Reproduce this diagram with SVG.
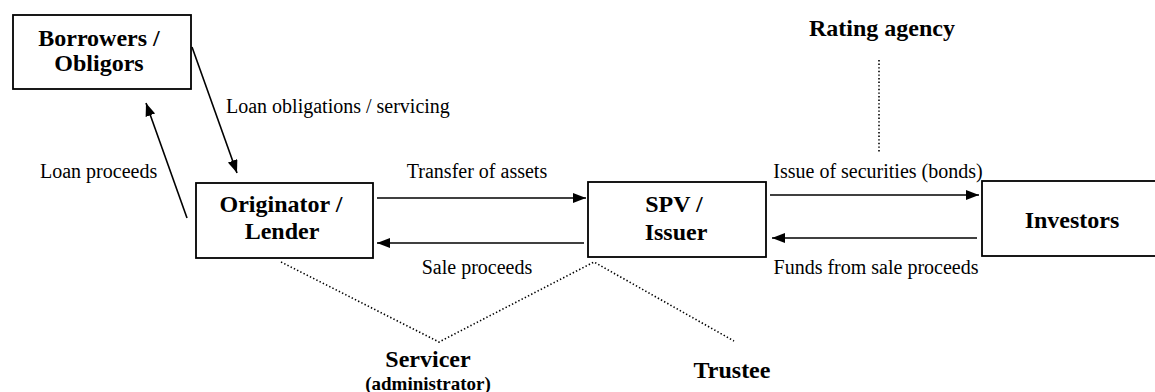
<svg xmlns="http://www.w3.org/2000/svg" width="1155" height="392" viewBox="0 0 1155 392">
  <style>
    .box { fill: #fff; stroke: #000; stroke-width: 1.8; }
    .node { font-family: "Liberation Serif", "Times New Roman", serif; font-weight: bold; font-size: 24px; fill: #000; text-anchor: middle; }
    .sub { font-size: 19px; }
    .label { font-family: "Liberation Serif", "Times New Roman", serif; font-size: 20px; fill: #000; }
    .flow { stroke: #000; stroke-width: 1.6; fill: none; marker-end: url(#arrow); }
    .dot { stroke: #000; stroke-width: 1.6; fill: none; stroke-dasharray: 1.4 2.2; }
  </style>
  <defs>
    <marker id="arrow" markerUnits="userSpaceOnUse" markerWidth="14" markerHeight="12" refX="13" refY="5" orient="auto">
      <path d="M0,0 L13,5 L0,10 z" fill="#000"/>
    </marker>
  </defs>

  <rect width="1155" height="392" fill="#fff"/>

  <g id="borrowers">
    <rect class="box" x="13" y="15" width="178" height="74"/>
    <text class="node" x="99" y="46">Borrowers /</text>
    <text class="node" x="99" y="71">Obligors</text>
  </g>

  <g id="originator">
    <rect class="box" x="196" y="183" width="177" height="75"/>
    <text class="node" x="281" y="212">Originator /</text>
    <text class="node" x="282" y="239">Lender</text>
  </g>

  <g id="spv">
    <rect class="box" x="588" y="182" width="178" height="75"/>
    <text class="node" x="674" y="212">SPV /</text>
    <text class="node" x="676" y="240">Issuer</text>
  </g>

  <!-- the investors box runs off the right-hand edge -->
  <g id="investors">
    <rect class="box" x="982" y="181" width="180" height="75"/>
    <text class="node" x="1072" y="228">Investors</text>
  </g>

  <g id="rating-agency">
    <text class="node" x="882" y="36">Rating agency</text>
  </g>

  <g id="servicer">
    <text class="node" x="428" y="367">Servicer</text>
    <text class="node sub" x="428" y="390">(administrator)</text>
  </g>

  <g id="trustee">
    <text class="node" x="732" y="378">Trustee</text>
  </g>

  <g id="connectors">
    <line class="flow" x1="192" y1="47" x2="237" y2="173"/>
    <line class="flow" x1="187" y1="218" x2="146" y2="103"/>
    <line class="flow" x1="377" y1="198" x2="586" y2="198"/>
    <line class="flow" x1="584" y1="243" x2="377" y2="243"/>
    <line class="flow" x1="770" y1="195" x2="979" y2="195"/>
    <line class="flow" x1="977" y1="238" x2="772" y2="238"/>
    <polyline class="dot" points="281,262 439,342 594,262 734,341"/>
    <line class="dot" x1="879" y1="60" x2="879" y2="153"/>
  </g>

  <g id="labels">
    <text class="label" x="226" y="113">Loan obligations / servicing</text>
    <text class="label" x="40" y="178">Loan proceeds</text>
    <text class="label" x="477" y="178" text-anchor="middle">Transfer of assets</text>
    <text class="label" x="477" y="274" text-anchor="middle">Sale proceeds</text>
    <text class="label" x="878" y="178" text-anchor="middle">Issue of securities (bonds)</text>
    <text class="label" x="876" y="274" text-anchor="middle">Funds from sale proceeds</text>
  </g>
</svg>
